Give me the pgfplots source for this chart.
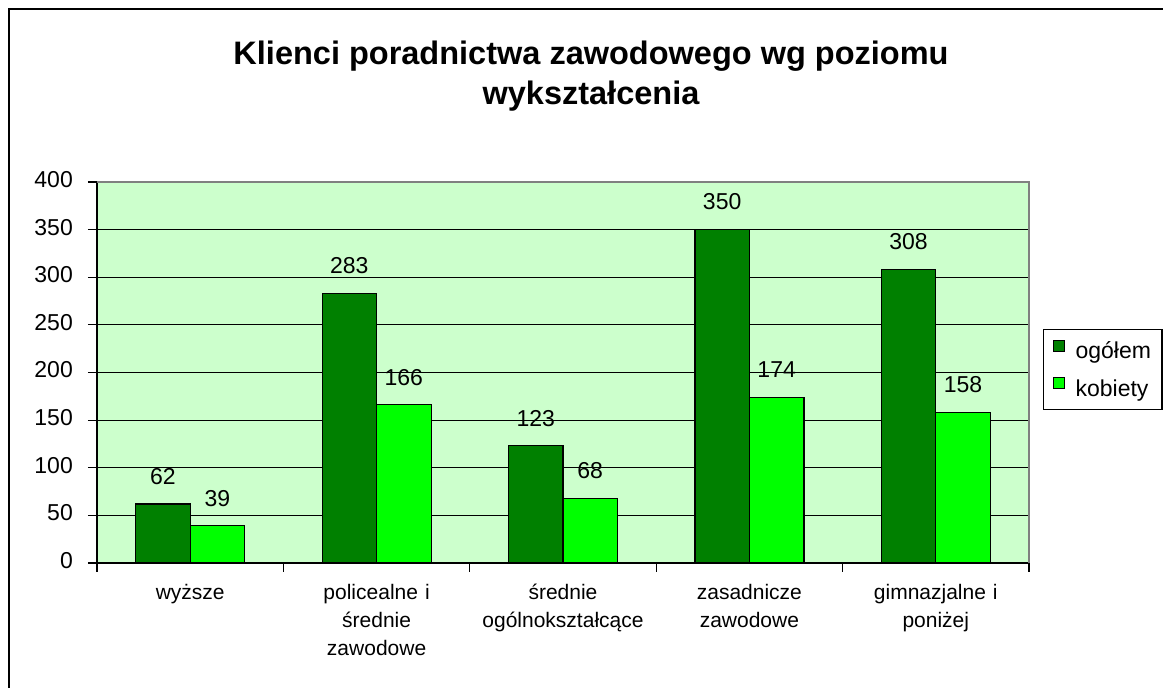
\documentclass[border=0pt]{standalone}
\usepackage{pgfplots}
\pgfplotsset{compat=1.18}
\usepackage{fontspec}
\setmainfont{Liberation Sans}
\definecolor{dg}{RGB}{0,128,0}
\definecolor{lg}{RGB}{0,255,0}
\definecolor{bgc}{RGB}{204,255,204}
\definecolor{bdc}{RGB}{128,128,128}
\begin{document}
\begin{tikzpicture}
\useasboundingbox (0,0) rectangle (1163pt,688pt);
\fill[white] (0,0) rectangle (1163pt,688pt);
\begin{axis}[
  at={(97pt,125pt)}, anchor=south west,
  scale only axis, width=932pt, height=381pt,
  xmin=0, xmax=5, ymin=0, ymax=400,
  ybar=0pt, bar width=54.5pt,
  axis x line*=bottom, axis y line*=left,
  axis line style={-, black, line width=1.5pt},
  axis background/.style={fill=bgc},
  /pgf/number format/assume math mode=true,
  ytick={0,50,...,400},
  xtick={0,1,2,3,4,5}, xticklabels={},
  extra x ticks={0.5,1.5,2.5,3.5,4.5},
  extra x tick labels={{wyższe},{policealne i\\średnie\\zawodowe},{średnie\\ogólnokształcące},{zasadnicze\\zawodowe},{gimnazjalne i\\poniżej}},
  extra x tick style={tick style={draw=none}},
  typeset ticklabels with strut,
  xticklabel style={font=\fontsize{21}{28}\selectfont, text width=190pt, align=center, anchor=north, inner sep=0pt, yshift=-8pt},
  yticklabel style={font=\fontsize{23}{27}\selectfont, anchor=east, inner sep=0pt, xshift=-15pt},
  tick align=outside, major tick length=9pt,
  tick style={black, line width=1.2pt},
  ymajorgrids, major grid style={black, line width=1.2pt},
  nodes near coords,
  nodes near coords style={font=\fontsize{23}{27}\selectfont, anchor=south, inner sep=0pt, yshift=19pt, black},
  legend style={at={(axis description cs:1.015,0.6142)}, anchor=north west, draw=black, line width=1.2pt, font=\fontsize{23}{27}\selectfont, row sep=15pt, inner xsep=9pt, inner ysep=10pt, /tikz/every odd column/.append style={column sep=9pt}},
  legend cell align=left,
  clip=false,
]
\addplot[fill=dg, draw=black, line width=1.2pt, legend image code/.code={\draw[fill=dg, draw=black, line width=1pt] (0pt,0pt) rectangle (11pt,11pt);}] coordinates {(0.5,62) (1.5,283) (2.5,123) (3.5,350) (4.5,308)};
\addlegendentry{ogółem}
\addplot[fill=lg, draw=black, line width=1.2pt, legend image code/.code={\draw[fill=lg, draw=black, line width=1pt] (0pt,0pt) rectangle (11pt,11pt);}] coordinates {(0.5,39) (1.5,166) (2.5,68) (3.5,174) (4.5,158)};
\addlegendentry{kobiety}
\draw[bdc, line width=1.5pt] (rel axis cs:0,1) -- (rel axis cs:1,1) -- (rel axis cs:1,0);
\end{axis}
\node[anchor=base, font=\bfseries\fontsize{32.5}{38}\selectfont] at (591pt,623.5pt) {Klienci poradnictwa zawodowego wg poziomu};
\node[anchor=base, font=\bfseries\fontsize{32.5}{38}\selectfont] at (591pt,583pt) {wykształcenia};
\draw[black, line width=2.5pt] (9pt,0pt) -- (9pt,679pt) -- (1170pt,679pt);
\end{tikzpicture}
\end{document}
